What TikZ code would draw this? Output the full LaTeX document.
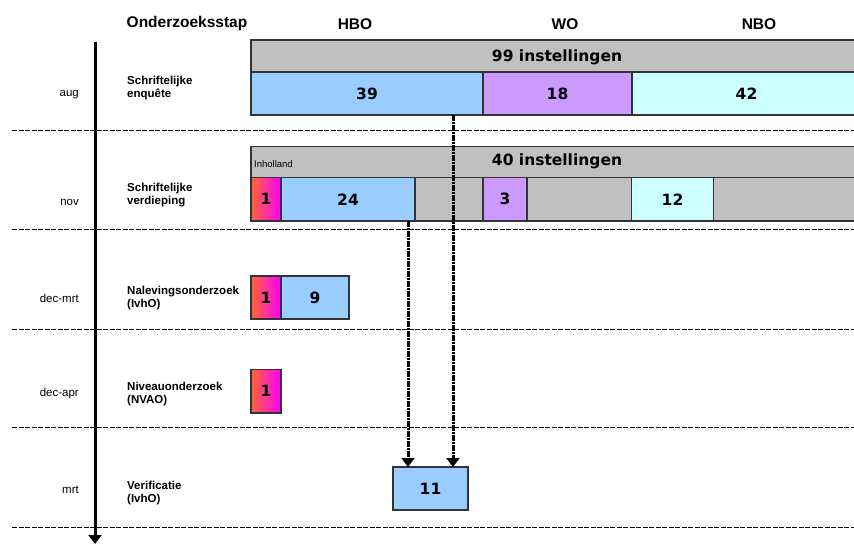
\documentclass[tikz,border=0pt]{standalone}
\usepackage{fontspec}
\setmainfont{Liberation Sans}
\newfontfamily\numfont{DejaVu Sans}
\usetikzlibrary{arrows.meta}
\definecolor{bandgrey}{HTML}{C0C0C0}
\definecolor{hboblue}{HTML}{99CCFF}
\definecolor{wopurple}{HTML}{CC99FF}
\definecolor{nbocyan}{HTML}{CCFFFF}
\definecolor{gradL}{HTML}{FF6633}
\definecolor{gradR}{HTML}{FF00FF}
\definecolor{edge}{HTML}{333333}
\begin{document}
\begin{tikzpicture}[x=1pt,y=-1pt,
  cell/.style={draw=edge, line width=1.1pt, inner sep=0pt, outer sep=0pt,
    anchor=north west, font=\numfont\bfseries\fontsize{15.5}{18}\selectfont},
  greycell/.style={cell, fill=bandgrey},
  bluecell/.style={cell, fill=hboblue},
  purplecell/.style={cell, fill=wopurple},
  cyancell/.style={cell, fill=nbocyan},
  gradcell/.style={cell, left color=gradL, right color=gradR},
  bandtext/.style={anchor=base, inner sep=0pt, font=\numfont\bfseries\fontsize{15.5}{18}\selectfont},
  header/.style={anchor=base, inner sep=0pt, font=\bfseries\fontsize{15.5}{18}\selectfont},
  steplabel/.style={anchor=north west, inner sep=0pt, align=left,
    font=\bfseries\fontsize{11.5}{13}\selectfont},
  monthlabel/.style={anchor=base east, inner sep=0pt, font=\fontsize{11.5}{13}\selectfont},
  separator/.style={line width=1.2pt, dash pattern=on 5pt off 1.5pt},
  timeline/.style={line width=3pt, -{Triangle[width=13pt,length=9pt]}},
  flow/.style={line width=3pt, dash pattern=on 6pt off 1pt on 2pt off 1pt,
    -{Triangle[width=13pt,length=9pt]}}
]
\useasboundingbox (0,0) rectangle (854,545);
\clip (0,0) rectangle (854,545);

% separators
\foreach \yy/\nm in {130.5/s1,229.5/s2,329.5/s3,427.5/s4,527.5/s5}{
  \coordinate (\nm L) at (12,\yy);
  \coordinate (\nm R) at (854,\yy);
  \draw[separator] (\nm L) -- (\nm R);
}

% timeline
\coordinate (tltop) at (95,42);
\coordinate (tlbot) at (95,544);
\draw[timeline] (tltop) -- (tlbot);

% headers
\node[header, anchor=base west] (hstep) at (126.5,27.5) {Onderzoeksstap};
\node[header] (hhbo) at (355,30) {HBO};
\node[header] (hwo) at (565,30) {WO};
\node[header] (hnbo) at (759,30) {NBO};

% month labels
\node[monthlabel] (m1) at (79,96.5) {aug};
\node[monthlabel] (m2) at (79,206) {nov};
\node[monthlabel] (m3) at (79,303) {dec-mrt};
\node[monthlabel] (m4) at (79,396) {dec-apr};
\node[monthlabel] (m5) at (79,493) {mrt};

% step labels
\node[steplabel] (l1) at (127,75.6) {Schriftelijke\\enquête};
\node[steplabel] (l2) at (127,182.6) {Schriftelijke\\verdieping};
\node[steplabel] (l3) at (127,286.1) {Nalevingsonderzoek\\(IvhO)};
\node[steplabel] (l4) at (127,381.6) {Niveauonderzoek\\(NVAO)};
\node[steplabel] (l5) at (127,480.6) {Verificatie\\(IvhO)};

% row 1
\node[greycell, minimum width=610pt, minimum height=32pt] (band1) at (251,40) {};
\node[bandtext] (band1t) at (557,61.7) {99 instellingen};
\node[bluecell, minimum width=232pt, minimum height=43pt] (b39) at (251,72) {39};
\node[purplecell, minimum width=149pt, minimum height=43pt] (b18) at (483,72) {18};
\node[cyancell, minimum width=229pt, minimum height=43pt] (b42) at (632,72) {42};

% row 2
\node[greycell, minimum width=610pt, minimum height=31pt] (band2) at (251,146.5) {};
\node[bandtext] (band2t) at (557,166) {40 instellingen};
\node[anchor=base west, inner sep=0pt, font=\fontsize{9.5}{11}\selectfont] (inh) at (254,168) {Inholland};
\node[greycell, minimum width=610pt, minimum height=43.5pt] (row2bg) at (251,177.5) {};
\node[gradcell, minimum width=30pt, minimum height=43.5pt] (g1) at (251,177.5) {1};
\node[bluecell, minimum width=134pt, minimum height=43.5pt] (b24) at (281,177.5) {24};
\node[purplecell, minimum width=44pt, minimum height=43.5pt] (b3) at (483,177.5) {3};
\node[cyancell, minimum width=82pt, minimum height=43.5pt] (b12) at (631.5,177.5) {12};

% row 3
\node[gradcell, minimum width=30pt, minimum height=43pt] (g2) at (251,276) {1};
\node[bluecell, minimum width=68pt, minimum height=43pt] (b9) at (281,276) {9};

% row 4
\node[gradcell, minimum width=30pt, minimum height=43.5pt] (g3) at (251,369.5) {1};

% row 5
\node[bluecell, minimum width=75pt, minimum height=43pt] (b11) at (393,467) {11};

% flow arrows
\coordinate (xa) at (408,0);
\coordinate (xb) at (453,0);
\draw[flow] (b24.south -| xa) -- (b11.north -| xa);
\draw[flow] (b39.south -| xb) -- (b11.north -| xb);
\end{tikzpicture}
\end{document}
